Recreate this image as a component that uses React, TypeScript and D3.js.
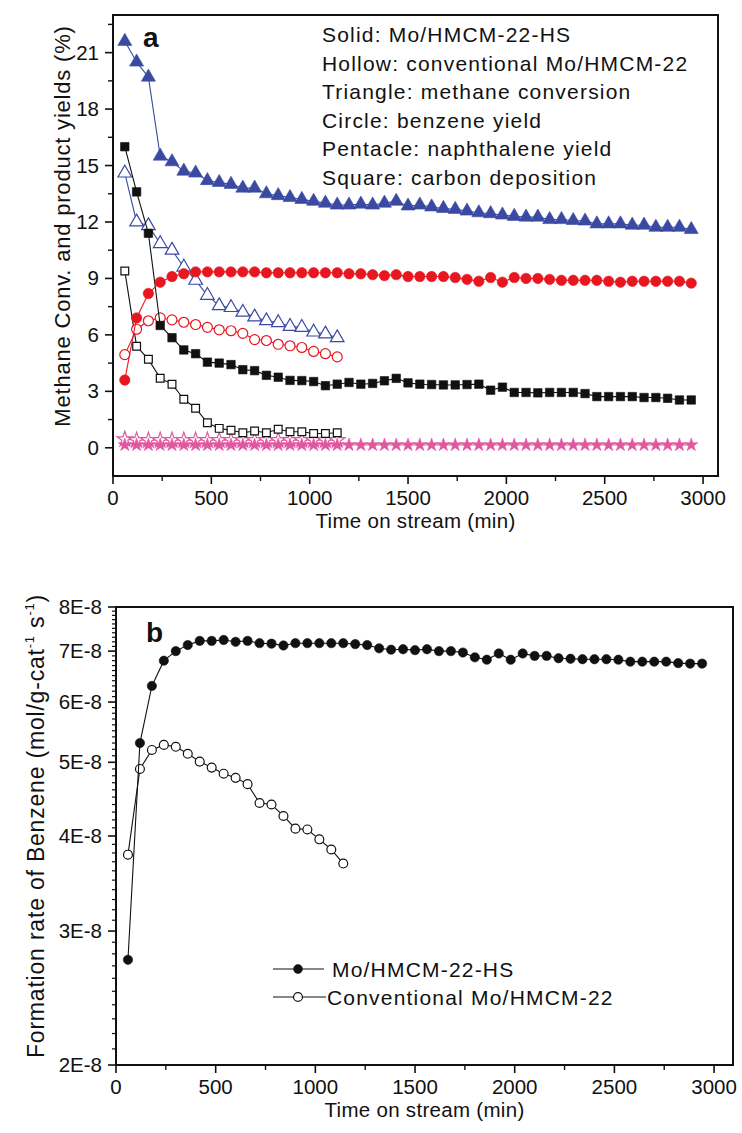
import React from "react";
import * as d3 from "d3";

// ---------- Data ----------
const timeHS = [60,120,180,240,300,360,420,480,540,600,660,720,780,840,900,960,1020,1080,1140,1200,1260,1320,1380,1440,1500,1560,1620,1680,1740,1800,1860,1920,1980,2040,2100,2160,2220,2280,2340,2400,2460,2520,2580,2640,2700,2760,2820,2880,2940];
const timeConv = [60,120,180,240,300,360,420,480,540,600,660,720,780,840,900,960,1020,1080,1140];

// panel a (%)
const methaneHS = [21.6,20.5,19.7,15.5,15.2,14.7,14.6,14.2,14.1,14.0,13.8,13.8,13.5,13.4,13.3,13.2,13.1,13.0,12.9,12.9,12.95,12.9,13.0,13.1,12.85,12.9,12.8,12.72,12.67,12.58,12.49,12.44,12.37,12.3,12.26,12.26,12.13,12.13,12.08,12.05,11.9,11.9,11.9,11.83,11.83,11.72,11.72,11.72,11.6];
const methaneConv = [14.6,12.0,11.8,10.85,10.5,9.6,8.9,8.1,7.55,7.45,7.2,6.95,6.75,6.65,6.45,6.4,6.15,6.05,5.85];
const benzeneHS = [3.6,6.9,8.2,8.8,9.1,9.25,9.35,9.35,9.35,9.35,9.35,9.35,9.3,9.3,9.3,9.3,9.3,9.3,9.3,9.25,9.25,9.2,9.15,9.2,9.1,9.1,9.1,9.1,9.05,8.95,8.85,9.05,8.8,9.05,9.0,9.0,8.95,8.9,8.9,8.9,8.9,8.85,8.8,8.85,8.85,8.85,8.85,8.85,8.75];
const benzeneConv = [4.95,6.3,6.75,6.9,6.8,6.67,6.55,6.4,6.27,6.22,6.08,5.75,5.7,5.5,5.42,5.33,5.12,5.0,4.83];
const naphHS = [0.15,0.15,0.15,0.15,0.15,0.15,0.15,0.15,0.15,0.15,0.15,0.15,0.15,0.15,0.15,0.15,0.15,0.15,0.15,0.15,0.15,0.15,0.15,0.15,0.15,0.15,0.15,0.15,0.15,0.15,0.15,0.15,0.15,0.15,0.15,0.15,0.15,0.15,0.15,0.15,0.15,0.15,0.15,0.15,0.15,0.15,0.15,0.15,0.15];
const naphConv = [0.45,0.4,0.4,0.4,0.4,0.4,0.4,0.4,0.4,0.4,0.4,0.4,0.4,0.4,0.4,0.4,0.4,0.4,0.4];
const carbonHS = [16.0,13.6,11.4,6.5,5.85,5.2,5.0,4.55,4.5,4.42,4.15,4.1,3.85,3.75,3.58,3.57,3.52,3.3,3.38,3.47,3.38,3.42,3.56,3.69,3.45,3.38,3.36,3.34,3.34,3.36,3.38,3.06,3.22,2.94,2.94,2.92,2.94,2.94,2.94,2.88,2.72,2.72,2.72,2.72,2.67,2.67,2.63,2.54,2.54];
const carbonConv = [9.4,5.4,4.7,3.7,3.38,2.58,2.1,1.33,1.03,0.93,0.8,0.89,0.8,0.98,0.85,0.85,0.76,0.76,0.8];

// panel b (mol/g-cat/s)
const rateHS = [2.75e-8,5.3e-8,6.3e-8,6.8e-8,7.0e-8,7.13e-8,7.22e-8,7.22e-8,7.24e-8,7.2e-8,7.22e-8,7.17e-8,7.16e-8,7.12e-8,7.17e-8,7.17e-8,7.17e-8,7.17e-8,7.17e-8,7.15e-8,7.13e-8,7.06e-8,7.03e-8,7.04e-8,7.02e-8,7.04e-8,7.0e-8,7.0e-8,6.97e-8,6.87e-8,6.82e-8,6.95e-8,6.82e-8,6.95e-8,6.9e-8,6.9e-8,6.85e-8,6.84e-8,6.83e-8,6.83e-8,6.83e-8,6.82e-8,6.78e-8,6.78e-8,6.78e-8,6.78e-8,6.75e-8,6.74e-8,6.74e-8];
const rateConv = [3.78e-8,4.9e-8,5.19e-8,5.27e-8,5.24e-8,5.13e-8,5.01e-8,4.92e-8,4.83e-8,4.77e-8,4.68e-8,4.42e-8,4.4e-8,4.25e-8,4.09e-8,4.08e-8,3.96e-8,3.84e-8,3.68e-8];

// ticks and labels
const xTicks = [0,500,1000,1500,2000,2500,3000];
const xMinor = [250,750,1250,1750,2250,2750];
const yTicksA = [0,3,6,9,12,15,18,21];
const yMinorA = [1.5,4.5,7.5,10.5,13.5,16.5,19.5,22.5];
const yTicksB = [2e-8,3e-8,4e-8,5e-8,6e-8,7e-8,8e-8];
const yTickLabelsB = ["2E-8","3E-8","4E-8","5E-8","6E-8","7E-8","8E-8"];
const notesA = [
  "Solid: Mo/HMCM-22-HS",
  "Hollow: conventional Mo/HMCM-22",
  "Triangle: methane conversion",
  "Circle: benzene yield",
  "Pentacle: naphthalene yield",
  "Square: carbon deposition",
];
const legendB = ["Mo/HMCM-22-HS", "Conventional Mo/HMCM-22"];

const FONT = "'Liberation Sans', Arial, Helvetica, sans-serif";
const BLUE = "#3a4aa3";
const RED = "#e8161f";
const PINK = "#e0579f";
const BLACK = "#111111";

type Ser = { x: number[]; y: number[]; color: string; sym: d3.SymbolType; size: number; filled: boolean };

function Series({ s, xs, ys }: { s: Ser; xs: (v: number) => number; ys: (v: number) => number }) {
  const pts = s.x.map((t, i) => [xs(t), ys(s.y[i])] as [number, number]);
  const line = d3.line()(pts) || "";
  const path = d3.symbol(s.sym, s.size)() || "";
  return (
    <g>
      <path d={line} fill="none" stroke={s.color} strokeWidth={1.1} />
      {pts.map((p, i) => (
        <path
          key={i}
          d={path}
          transform={`translate(${p[0]},${p[1]})`}
          fill={s.filled ? s.color : "#fff"}
          stroke={s.color}
          strokeWidth={s.filled ? 0.6 : 1.2}
        />
      ))}
    </g>
  );
}

export default function App() {
  // ---- panel a ----
  const ax = d3.scaleLinear().domain([0, 3076]).range([113, 718]);
  const ay = d3.scaleLinear().domain([-1.5, 23]).range([476, 15]);
  const seriesA: Ser[] = [
    { x: timeConv, y: naphConv, color: PINK, sym: d3.symbolStar, size: 75, filled: false },
    { x: timeHS, y: naphHS, color: PINK, sym: d3.symbolStar, size: 55, filled: true },
    { x: timeConv, y: carbonConv, color: BLACK, sym: d3.symbolSquare, size: 60, filled: false },
    { x: timeConv, y: benzeneConv, color: RED, sym: d3.symbolCircle, size: 78, filled: false },
    { x: timeConv, y: methaneConv, color: BLUE, sym: d3.symbolTriangle, size: 80, filled: false },
    { x: timeHS, y: carbonHS, color: BLACK, sym: d3.symbolSquare, size: 72, filled: true },
    { x: timeHS, y: benzeneHS, color: RED, sym: d3.symbolCircle, size: 85, filled: true },
    { x: timeHS, y: methaneHS, color: BLUE, sym: d3.symbolTriangle, size: 85, filled: true },
  ];

  // ---- panel b ----
  const bx = d3.scaleLinear().domain([0, 3095]).range([116, 733]);
  const by = d3.scaleLog().domain([2e-8, 8e-8]).range([1065, 607]);
  const yMinorB: number[] = [];
  for (let k = 21; k < 80; k++) if (k % 10 !== 0) yMinorB.push(k * 1e-9);
  const seriesB: Ser[] = [
    { x: timeConv, y: rateConv, color: BLACK, sym: d3.symbolCircle, size: 62, filled: false },
    { x: timeHS, y: rateHS, color: BLACK, sym: d3.symbolCircle, size: 68, filled: true },
  ];

  const tickFont = 20.5;
  const A = { l: 113, r: 718, t: 15, b: 476 };
  const B = { l: 116, r: 733, t: 607, b: 1065 };
  const sym = d3.symbol(d3.symbolCircle, 62)() || "";

  return (
    <svg width={742} height={1133} style={{ position: "absolute", left: 0, top: 0, background: "#fff" }} fontFamily={FONT}>
      <rect x={0} y={0} width={742} height={1133} fill="#fff" />
      {/* ===== Panel a ===== */}
      <g>
        {seriesA.map((s, i) => (
          <Series key={i} s={s} xs={ax} ys={ay} />
        ))}
        <rect x={A.l} y={A.t} width={A.r - A.l} height={A.b - A.t} fill="none" stroke="#111" strokeWidth={2} />
        {xTicks.map((t) => (
          <g key={t}>
            <line x1={ax(t)} x2={ax(t)} y1={A.b} y2={A.b + 8} stroke="#111" strokeWidth={1.6} />
            <text x={ax(t)} y={A.b + 29} textAnchor="middle" fontSize={tickFont} fill="#111">{t}</text>
          </g>
        ))}
        {xMinor.map((t) => (
          <line key={t} x1={ax(t)} x2={ax(t)} y1={A.b} y2={A.b + 5} stroke="#111" strokeWidth={1.4} />
        ))}
        {yTicksA.map((v) => (
          <g key={v}>
            <line x1={A.l - 8} x2={A.l} y1={ay(v)} y2={ay(v)} stroke="#111" strokeWidth={1.6} />
            <text x={A.l - 14} y={ay(v) + 7} textAnchor="end" fontSize={tickFont} fill="#111">{v}</text>
          </g>
        ))}
        {yMinorA.map((v) => (
          <line key={v} x1={A.l - 5} x2={A.l} y1={ay(v)} y2={ay(v)} stroke="#111" strokeWidth={1.4} />
        ))}
        <text x={(A.l + A.r) / 2} y={528} textAnchor="middle" fontSize={20.5} letterSpacing={0.3} fill="#111">Time on stream (min)</text>
        <text transform={`translate(70,${226}) rotate(-90)`} textAnchor="middle" fontSize={22} letterSpacing={0.8} fill="#111">
          Methane Conv. and product yields (%)
        </text>
        <text x={143} y={47} fontSize={28} fontWeight="bold" fill="#111">a</text>
        {notesA.map((n, i) => (
          <text key={i} x={322} y={42 + i * 28.6} fontSize={21} letterSpacing={1.2} fill="#111">{n}</text>
        ))}
      </g>

      {/* ===== Panel b ===== */}
      <g>
        {seriesB.map((s, i) => (
          <Series key={i} s={s} xs={bx} ys={by} />
        ))}
        <rect x={B.l} y={B.t} width={B.r - B.l} height={B.b - B.t} fill="none" stroke="#111" strokeWidth={2} />
        {xTicks.map((t) => (
          <g key={t}>
            <line x1={bx(t)} x2={bx(t)} y1={B.b} y2={B.b + 8} stroke="#111" strokeWidth={1.6} />
            <text x={bx(t)} y={B.b + 29} textAnchor="middle" fontSize={tickFont} fill="#111">{t}</text>
          </g>
        ))}
        {xMinor.map((t) => (
          <line key={t} x1={bx(t)} x2={bx(t)} y1={B.b} y2={B.b + 5} stroke="#111" strokeWidth={1.4} />
        ))}
        {yTicksB.map((v, i) => (
          <g key={v}>
            <line x1={B.l - 8} x2={B.l} y1={by(v)} y2={by(v)} stroke="#111" strokeWidth={1.6} />
            <text x={B.l - 14} y={by(v) + 7} textAnchor="end" fontSize={tickFont} fill="#111">{yTickLabelsB[i]}</text>
          </g>
        ))}
        {yMinorB.map((v) => (
          <line key={v} x1={B.l - 4} x2={B.l} y1={by(v)} y2={by(v)} stroke="#111" strokeWidth={1.2} />
        ))}
        <text x={(B.l + B.r) / 2} y={1117} textAnchor="middle" fontSize={20.5} letterSpacing={0.3} fill="#111">Time on stream (min)</text>
        <text transform={`translate(44,${826}) rotate(-90)`} textAnchor="middle" fontSize={23} letterSpacing={0.8} fill="#111">
          Formation rate of Benzene (mol/g-cat<tspan fontSize={13} dy={-10}>-1</tspan><tspan dy={10}> s</tspan><tspan fontSize={13} dy={-10}>-1</tspan><tspan dy={10}>)</tspan>
        </text>
        <text x={146} y={642} fontSize={28} fontWeight="bold" fill="#111">b</text>
        {/* legend */}
        {legendB.map((lbl, i) => {
          const yy = 969 + i * 28;
          return (
            <g key={i}>
              <line x1={273} x2={i === 0 ? 324 : 326} y1={yy} y2={yy} stroke="#111" strokeWidth={1.1} />
              <path d={sym} transform={`translate(298,${yy})`} fill={i === 0 ? "#111" : "#fff"} stroke="#111" strokeWidth={i === 0 ? 0.6 : 1.2} />
              <text x={i === 0 ? 332 : 327} y={yy + 7.5} fontSize={21} letterSpacing={1.2} fill="#111">{lbl}</text>
            </g>
          );
        })}
      </g>
    </svg>
  );
}
